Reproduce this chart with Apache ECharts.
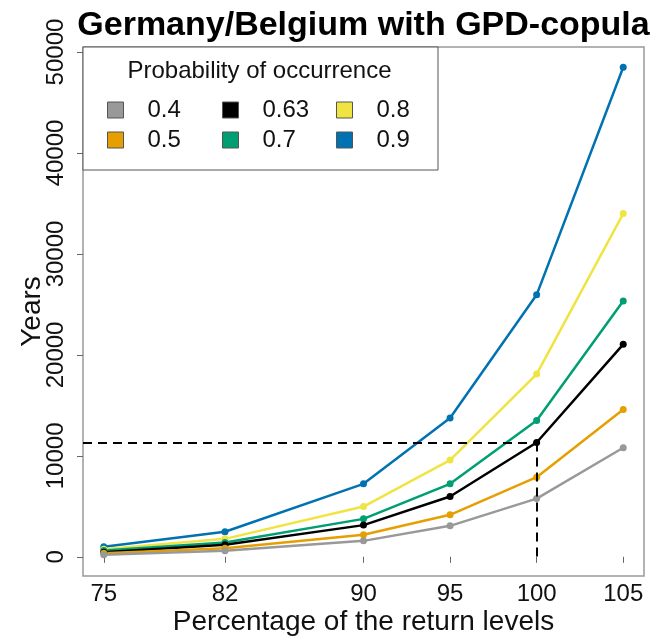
<!DOCTYPE html>
<html>
<head>
<meta charset="utf-8">
<title>Germany/Belgium with GPD-copula</title>
<script src="https://cdn.jsdelivr.net/npm/echarts@6.0.0/dist/echarts.min.js"></script>
<style>
  html, body { margin: 0; padding: 0; background: #fff; }
  #chart { width: 669px; height: 636px; }
</style>
</head>
<body>
<div id="chart"></div>
<script>
// percentage of the return levels (x positions)
const levels = [75, 82, 90, 95, 100, 105]
const yTicks = [0, 10000, 20000, 30000, 40000, 50000]

// years, one array per probability of occurrence
const p04 = [200, 590, 1580, 3070, 5770, 10800]
const p05 = [360, 860, 2180, 4160, 7890, 14600]
const p063 = [460, 1190, 3140, 5970, 11320, 21050]
const p07 = [630, 1420, 3760, 7230, 13500, 25350]
const p08 = [760, 1780, 4980, 9580, 18100, 34000]
const p09 = [1000, 2480, 7230, 13750, 25950, 48500]

// dashed guide at 100% level
const refLevel = 100
const refYears = 11320

const names = ['0.4', '0.5', '0.63', '0.7', '0.8', '0.9']
const colors = ['#999999', '#E69F00', '#000000', '#009E73', '#F0E442', '#0072B2']
const values = [p04, p05, p063, p07, p08, p09]

const font = 'Liberation Sans, Arial, Helvetica, sans-serif'
const xMin = 73.8
const xMax = 106.2

const chart = echarts.init(document.getElementById('chart'), null, { renderer: 'canvas' })

const makeSeries = (i) => {
  const s = {
    name: names[i],
    type: 'line',
    data: levels.map((x, k) => [x, values[i][k]]),
    color: colors[i],
    symbol: 'circle',
    symbolSize: 7,
    lineStyle: { width: 2.5 },
    itemStyle: { color: colors[i] },
    emphasis: { disabled: true }
  }
  if (names[i] === '0.63') {
    s.markLine = {
      silent: true,
      symbol: ['none', 'none'],
      label: { show: false },
      lineStyle: { color: '#000', width: 2, type: [9, 6] },
      data: [
        [{ coord: [xMin, refYears] }, { coord: [refLevel, refYears] }],
        [{ coord: [refLevel, refYears] }, { coord: [refLevel, 0] }]
      ]
    }
  }
  return s
}

// draw blue first so the grey line ends up on top
const series = [5, 4, 3, 2, 1, 0].map(makeSeries)

const legendBase = {
  orient: 'vertical',
  top: 98,
  padding: 0,
  itemGap: 6,
  itemWidth: 16,
  itemHeight: 16,
  icon: 'rect',
  selectedMode: false,
  itemStyle: { borderColor: '#555', borderWidth: 1 },
  textStyle: { fontFamily: font, fontSize: 24, color: '#111', padding: [0, 0, 0, 19] }
}

chart.setOption({
  animation: false,
  backgroundColor: '#fff',
  title: [
    {
      text: 'Germany/Belgium with GPD-copula',
      left: 363.5,
      textAlign: 'center',
      top: 9,
      padding: 0,
      textStyle: { fontFamily: font, fontSize: 34, fontWeight: 'bold', color: '#000' }
    },
    {
      text: 'Probability of occurrence',
      left: 259.5,
      textAlign: 'center',
      top: 59,
      padding: 0,
      textStyle: { fontFamily: font, fontSize: 24, fontWeight: 'normal', color: '#111' }
    }
  ],
  graphic: [
    {
      type: 'rect',
      z: 1,
      shape: { x: 83, y: 47, width: 355, height: 123 },
      style: { fill: '#fff', stroke: '#555', lineWidth: 1 }
    }
  ],
  legend: [
    Object.assign({}, legendBase, { left: 107, data: ['0.4', '0.5'] }),
    Object.assign({}, legendBase, { left: 222, data: ['0.63', '0.7'] }),
    Object.assign({}, legendBase, { left: 336, data: ['0.8', '0.9'] })
  ],
  grid: {
    left: 83,
    right: 25,
    top: 47,
    bottom: 60,
    containLabel: false,
    outerBoundsMode: 'none',
    show: true,
    borderColor: '#999',
    borderWidth: 1.5,
    backgroundColor: 'transparent'
  },
  xAxis: {
    type: 'value',
    min: xMin,
    max: xMax,
    name: 'Percentage of the return levels',
    nameLocation: 'middle',
    nameGap: 32,
    nameMoveOverlap: false,
    nameTextStyle: { fontFamily: font, fontSize: 28, color: '#111' },
    axisLine: { show: false },
    splitLine: { show: false },
    axisTick: { show: true, length: 6, customValues: levels, lineStyle: { color: '#666', width: 1 } },
    axisLabel: { customValues: levels, margin: 6, fontFamily: font, fontSize: 24, color: '#111' }
  },
  yAxis: {
    type: 'value',
    min: -1900,
    max: 50500,
    name: 'Years',
    nameLocation: 'middle',
    nameGap: 37,
    nameMoveOverlap: false,
    nameTextStyle: { fontFamily: font, fontSize: 28, color: '#111' },
    axisLine: { show: false },
    splitLine: { show: false },
    axisTick: { show: true, length: 6, customValues: yTicks, lineStyle: { color: '#666', width: 1 } },
    axisLabel: {
      customValues: yTicks,
      rotate: 90,
      margin: 15,
      fontFamily: font,
      fontSize: 24,
      color: '#111',
      formatter: (v) => String(v)
    }
  },
  series: series
})
</script>
</body>
</html>
